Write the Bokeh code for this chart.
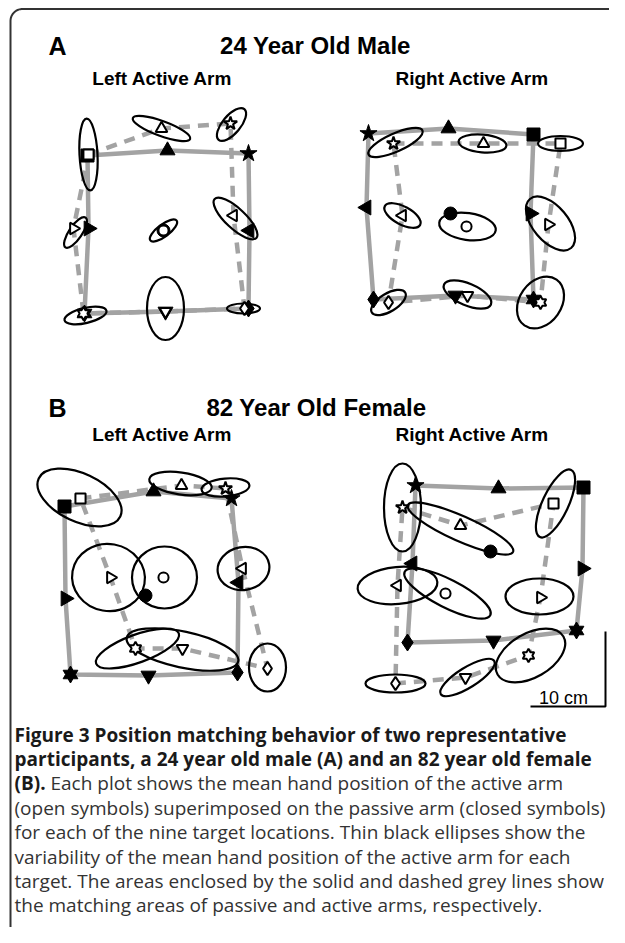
import numpy as np
from bokeh.plotting import figure
from bokeh.models import Range1d
from bokeh.embed import file_html
from bokeh.resources import INLINE
from bokeh.core.properties import value

# ---------------- data (positions, picture pixels) ----------------
# target order: top-left, top-mid, top-right, mid-right, bottom-right, bottom-mid, bottom-left, mid-left, centre
LEFT_SYMBOLS = ["square", "triangle", "star", "tri_left", "diamond", "inverted_triangle", "hexagram", "tri_right", "circle"]
RIGHT_SYMBOLS = ["star", "triangle", "square", "tri_right", "hexagram", "inverted_triangle", "diamond", "tri_left", "circle"]

# Panel A, left active arm
a_left_passive_x = [87, 167, 248, 249, 248, 165, 84, 88, 163]
a_left_passive_y = [155, 150, 153, 230, 308, 311, 313, 228, 230]
a_left_active_x = [88, 161, 230, 233, 244, 165, 83, 73, 163]
a_left_active_y = [154, 128, 123, 215, 308, 311, 313, 228, 230]
a_left_ell_x = [88, 161, 231, 235, 243, 165, 85, 75, 163]
a_left_ell_y = [154, 128, 124, 218, 308, 308, 315, 232, 230]
a_left_ell_w = [18, 61, 40, 57, 33, 37, 43, 36, 33]
a_left_ell_h = [72, 15, 18, 20, 10, 63, 15, 13, 12]
a_left_ell_deg = [3, -20, 50, -43, 0, 0, 13, 56, 37]

# Panel A, right active arm
a_right_passive_x = [368, 448, 533, 530, 533, 455, 373, 366, 450]
a_right_passive_y = [133, 128, 134, 213, 299, 295, 299, 207, 213]
a_right_active_x = [393, 483, 560, 548, 540, 467, 388, 402, 466]
a_right_active_y = [143, 143, 143, 224, 302, 295, 302, 215, 226]
a_right_ell_x = [395, 482, 560, 550, 540, 467, 388, 402, 467]
a_right_ell_y = [142, 143, 143, 223, 302, 294, 302, 215, 226]
a_right_ell_w = [59, 48, 45, 64, 56, 51, 39, 40, 57]
a_right_ell_h = [18, 18, 15, 35, 42, 22, 18, 18, 27]
a_right_ell_deg = [24, -5, 0, -50, 55, -23, 31, -28, -8]

# Panel B, left active arm
b_left_passive_x = [64, 153, 231, 238, 237, 148, 70, 65, 145]
b_left_passive_y = [506, 491, 498, 582, 672, 675, 674, 598, 595]
b_left_active_x = [80, 181, 225, 242, 267, 182, 135, 110, 163]
b_left_active_y = [498, 485, 488, 568, 668, 648, 648, 577, 577]
b_left_ell_x = [79, 180, 225, 243, 267, 182, 137, 108, 164]
b_left_ell_y = [497, 483, 487, 568, 667, 649, 648, 577, 577]
b_left_ell_w = [90, 63, 48, 52, 37, 114, 88, 73, 65]
b_left_ell_h = [48, 22, 18, 43, 48, 36, 28, 67, 62]
b_left_ell_deg = [-25, -8, 5, 10, 0, -12, 20, -10, 0]

# Panel B, right active arm
b_right_passive_x = [415, 498, 583, 582, 576, 493, 407, 412, 490]
b_right_passive_y = [485, 488, 487, 568, 630, 640, 642, 563, 551]
b_right_active_x = [402, 460, 553, 540, 528, 465, 395, 397, 445]
b_right_active_y = [507, 525, 503, 597, 655, 677, 683, 585, 593]
b_right_ell_x = [402, 460, 555, 539, 530, 467, 395, 397, 447]
b_right_ell_y = [507, 528, 503, 596, 655, 677, 683, 585, 593]
b_right_ell_w = [37, 115, 74, 68, 76, 63, 60, 80, 96]
b_right_ell_h = [88, 25, 26, 36, 44, 20, 18, 37, 28]
b_right_ell_deg = [0, -24, 65, 0, 30, 32, 0, 5, -27]

SCALE_CM = 10
PX_PER_CM = 7.5

titles = ["A", "24 Year Old Male", "B", "82 Year Old Female"]
subtitles = ["Left Active Arm", "Right Active Arm"]
caption_bold = ["Figure 3 Position matching behavior of two representative",
                "participants, a 24 year old male (A) and an 82 year old female",
                "(B)."]
caption_regular = ["Each plot shows the mean hand position of the active arm",
                   "(open symbols) superimposed on the passive arm (closed symbols)",
                   "for each of the nine target locations. Thin black ellipses show the",
                   "variability of the mean hand position of the active arm for each",
                   "target. The areas enclosed by the solid and dashed grey lines show",
                   "the matching areas of passive and active arms, respectively."]

# ---------------- figure ----------------
p = figure(width=609, height=927, x_range=Range1d(0, 609), y_range=Range1d(927, 0),
           output_backend="svg", toolbar_location=None, min_border=0,
           x_axis_type=None, y_axis_type=None)
p.grid.visible = False
p.outline_line_color = None
p.background_fill_color = "white"
p.border_fill_color = "white"

GREY = "#a3a3a3"
SIZES = {"square": 13, "triangle": 15, "inverted_triangle": 15, "star": 18,
         "diamond": 17, "circle": 13, "tri_left": 15, "tri_right": 15}


def hexagram(cx, cy, r):
    ang = np.pi / 2 + np.arange(12) * np.pi / 6
    rad = np.where(np.arange(12) % 2 == 0, r, r * 0.58)
    return list(cx + rad * np.cos(ang)), list(cy + rad * np.sin(ang))


def draw_markers(symbols, xs, ys, filled):
    fill = "black" if filled else "white"
    lw = 1 if filled else 2
    scale = 1.0 if filled else 0.78
    for sym, x, y in zip(symbols, xs, ys):
        if sym == "hexagram":
            vx, vy = hexagram(x, y, 8.5 * scale)
            p.patch(vx, vy, fill_color=fill, line_color="black", line_width=lw)
            continue
        marker, angle = sym, 0.0
        if sym == "tri_left":
            marker, angle = "triangle", np.pi / 2
        elif sym == "tri_right":
            marker, angle = "triangle", -np.pi / 2
        p.scatter([x], [y], marker=marker, size=SIZES[sym] * scale, angle=angle,
                  fill_color=fill, line_color="black", line_width=lw)


def draw_panel(symbols, px, py, ax, ay, ex, ey, ew, eh, edeg):
    loop = list(range(8)) + [0]
    p.line([px[i] for i in loop], [py[i] for i in loop], line_color=GREY,
           line_width=4.5, line_join="round")
    p.line([ax[i] for i in loop], [ay[i] for i in loop], line_color=GREY,
           line_width=4.5, line_dash="11 8")
    draw_markers(symbols, px, py, True)
    p.ellipse(x=ex, y=ey, width=ew, height=eh, angle=np.radians(edeg),
              fill_color=None, line_color="black", line_width=2.2)
    draw_markers(symbols, ax, ay, False)


draw_panel(LEFT_SYMBOLS, a_left_passive_x, a_left_passive_y, a_left_active_x, a_left_active_y,
           a_left_ell_x, a_left_ell_y, a_left_ell_w, a_left_ell_h, a_left_ell_deg)
draw_panel(RIGHT_SYMBOLS, a_right_passive_x, a_right_passive_y, a_right_active_x, a_right_active_y,
           a_right_ell_x, a_right_ell_y, a_right_ell_w, a_right_ell_h, a_right_ell_deg)
draw_panel(LEFT_SYMBOLS, b_left_passive_x, b_left_passive_y, b_left_active_x, b_left_active_y,
           b_left_ell_x, b_left_ell_y, b_left_ell_w, b_left_ell_h, b_left_ell_deg)
draw_panel(RIGHT_SYMBOLS, b_right_passive_x, b_right_passive_y, b_right_active_x, b_right_active_y,
           b_right_ell_x, b_right_ell_y, b_right_ell_w, b_right_ell_h, b_right_ell_deg)

# frame with rounded top-left corner
r = 12
x0, y0 = 10, 8.5
th = np.linspace(np.pi, 1.5 * np.pi, 20)
bx = [x0] + list(x0 + r + r * np.cos(th)) + [609]
by = [940] + list(y0 + r + r * np.sin(th)) + [y0]
p.line(bx, by, line_color="#333333", line_width=2)

# scale bar
bar_len = SCALE_CM * PX_PER_CM
bar_x, bar_y = 605, 706
p.line([bar_x - bar_len, bar_x, bar_x], [bar_y, bar_y, bar_y - bar_len], line_color="black", line_width=2)
p.text(x=[563], y=[697], text=[f"{SCALE_CM} cm"], text_font=value("Liberation Sans"),
       text_font_size="18px", text_align="center", text_baseline="alphabetic", text_color="black")

# titles
AF = value("Liberation Sans")
p.text(x=[48, 48], y=[45, 407], text=[titles[0], titles[2]], text_font=AF, text_font_style="bold",
       text_font_size="25px", text_align="left", text_baseline="alphabetic", text_color="black")
p.text(x=[315, 316], y=[45, 407], text=[titles[1], titles[3]], text_font=AF, text_font_style="bold",
       text_font_size="24px", text_align="center", text_baseline="alphabetic", text_color="black")
p.text(x=[162, 472, 162, 472], y=[78, 78, 434, 434], text=subtitles * 2, text_font=AF,
       text_font_style="bold", text_font_size="19px", text_align="center",
       text_baseline="alphabetic", text_color="black")

# caption
CF = value("Open Sans")
base0, step = 734, 24.4
p.text(x=[14, 14, 14], y=[base0, base0 + step, base0 + 2 * step], text=caption_bold, text_font=CF,
       text_font_style="bold", text_font_size="19px", text_align="left",
       text_baseline="alphabetic", text_color="#1a1a1a")
p.text(x=[50] + [14] * 5, y=[base0 + (k + 2) * step for k in range(6)], text=caption_regular,
       text_font=CF, text_font_size="19px", text_align="left",
       text_baseline="alphabetic", text_color="#333333")

open("out.html", "w").write(file_html(p, INLINE))
